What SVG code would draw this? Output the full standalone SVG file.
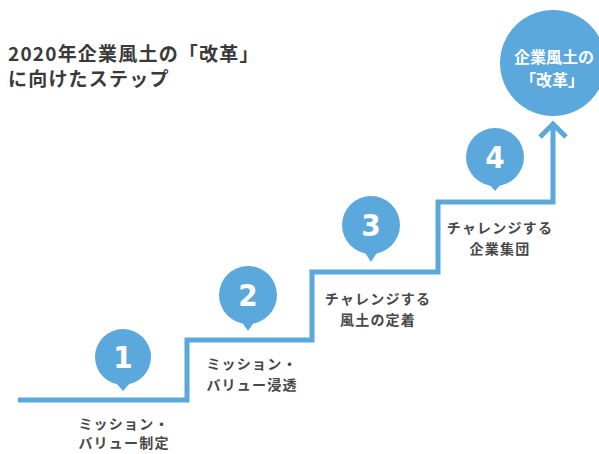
<svg xmlns="http://www.w3.org/2000/svg" width="599" height="454" viewBox="0 0 599 454">
<style>
.title{font-family:"Noto Sans CJK JP","Noto Sans",sans-serif;font-weight:bold;font-size:19px;fill:#3a3a3a;letter-spacing:1.2px}
.lbl{font-family:"Noto Sans CJK JP","Noto Sans",sans-serif;font-weight:bold;font-size:14px;fill:#474747;text-anchor:middle;letter-spacing:1.2px}
.num{font-family:"DejaVu Sans Condensed","DejaVu Sans",sans-serif;font-stretch:condensed;font-weight:bold;font-size:31px;fill:#fff;text-anchor:middle}
.goal{font-family:"Noto Sans CJK JP","Noto Sans",sans-serif;font-weight:bold;font-size:16px;fill:#fff;text-anchor:middle}
.pin{fill:#5BA8DC}
.line{fill:none;stroke:#5BA8DC;stroke-width:5}
</style>
<rect width="599" height="454" fill="#fff"/>
<g id="title">
<text class="title" x="8" y="61">2020年企業風土の「改革」</text>
<text class="title" x="8" y="86">に向けたステップ</text>
</g>
<g id="connectors">
<path class="line" d="M18 400 H187 V340 H312 V272 H438 V202 H553 V124"/>
<path class="line" d="M540 137 L553 124 L566 137"/>
</g>
<g id="goal">
<circle class="pin" cx="553" cy="63" r="53"/>
<text class="goal" x="554" y="63">企業風土の</text>
<text class="goal" x="552" y="86">「改革」</text>
</g>
<g id="step1">
<circle class="pin" cx="123" cy="357" r="28"/>
<path class="pin" d="M116 383 L123 391 L130 383 Z"/>
<text class="num" x="123" y="368">1</text>
<text class="lbl" x="124" y="429">ミッション・</text>
<text class="lbl" x="124" y="448">バリュー制定</text>
</g>
<g id="step2">
<circle class="pin" cx="248" cy="295" r="29"/>
<path class="pin" d="M241 321 L248 331 L255 321 Z"/>
<text class="num" x="248" y="306">2</text>
<text class="lbl" x="252" y="369">ミッション・</text>
<text class="lbl" x="252" y="390">バリュー浸透</text>
</g>
<g id="step3">
<circle class="pin" cx="371" cy="225" r="29"/>
<path class="pin" d="M364 251 L371 262 L378 251 Z"/>
<text class="num" x="371" y="236">3</text>
<text class="lbl" x="378" y="304">チャレンジする</text>
<text class="lbl" x="378" y="325">風土の定着</text>
</g>
<g id="step4">
<circle class="pin" cx="495" cy="157" r="29"/>
<path class="pin" d="M488 183 L495 191 L502 183 Z"/>
<text class="num" x="495" y="168">4</text>
<text class="lbl" x="500" y="233">チャレンジする</text>
<text class="lbl" x="500" y="254">企業集団</text>
</g>
</svg>
